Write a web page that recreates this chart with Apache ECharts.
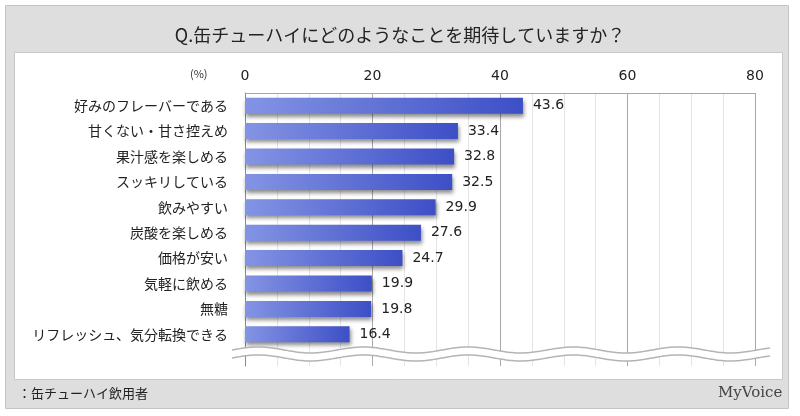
<!DOCTYPE html>
<html>
<head>
<meta charset="utf-8">
<script src="https://cdn.jsdelivr.net/npm/echarts@6/dist/echarts.min.js"></script>
<style>
  html, body { margin: 0; padding: 0; background: #fff; }
  #chart { width: 800px; height: 416px; }
</style>
</head>
<body>
<div id="chart"></div>
<script>
const categories = [
  '好みのフレーバーである',
  '甘くない・甘さ控えめ',
  '果汁感を楽しめる',
  'スッキリしている',
  '飲みやすい',
  '炭酸を楽しめる',
  '価格が安い',
  '気軽に飲める',
  '無糖',
  'リフレッシュ、気分転換できる'
];
const values = [43.6, 33.4, 32.8, 32.5, 29.9, 27.6, 24.7, 19.9, 19.8, 16.4];
const axisMax = 80;
const axisStep = 20;

const font = '"Noto Sans CJK JP", "Noto Sans", sans-serif';

// 波線（省略記号）
function wave(offset) {
  const pts = [];
  for (let x = 232; x <= 770; x += 2) {
    pts.push([x, 354 + offset + 3 * Math.sin((x - 232) / 105 * Math.PI * 2 + Math.PI)]);
  }
  return pts;
}

const chart = echarts.init(document.getElementById('chart'));

const xAxisBase = {
  type: 'value',
  min: 0,
  max: axisMax,
  interval: axisStep,
  minorTick: { show: false, splitNumber: 4 },
  minorSplitLine: { show: true, lineStyle: { color: '#e4e4e4', width: 1 } },
  splitLine: { show: true, lineStyle: { color: '#a8a8a8', width: 1 } },
  axisLine: { show: false },
  axisTick: { show: false }
};

chart.setOption({
  animation: false,
  textStyle: { fontFamily: font },
  title: {
    text: 'Q.缶チューハイにどのようなことを期待していますか？',
    left: 'center',
    top: 21,
    textStyle: { fontSize: 18, fontWeight: 'normal', color: '#222', fontFamily: font }
  },
  graphic: [
    { type: 'rect', z: -100, shape: { x: 5.5, y: 5.5, width: 783, height: 403 },
      style: { fill: '#dedede', stroke: '#c4c4c4', lineWidth: 1 } },
    { type: 'rect', z: -99, shape: { x: 14.5, y: 52.5, width: 768, height: 327 },
      style: { fill: '#ffffff', stroke: '#c8c8c8', lineWidth: 1 } },
    { type: 'polyline', z: 100, shape: { points: wave(0) },
      style: { stroke: '#ffffff', lineWidth: 8, fill: null } },
    { type: 'polyline', z: 101, shape: { points: wave(-4) },
      style: { stroke: '#b4b4b4', lineWidth: 1.5, fill: null } },
    { type: 'polyline', z: 101, shape: { points: wave(4) },
      style: { stroke: '#b4b4b4', lineWidth: 1.5, fill: null } },
    { type: 'text', left: 190, top: 68,
      style: { text: '(%)', fontSize: 11, fill: '#333', fontFamily: font } },
    { type: 'text', left: 18, top: 387,
      style: { text: '：缶チューハイ飲用者', fontSize: 13, fill: '#222', fontFamily: font } },
    { type: 'text', left: 718, top: 386,
      style: { text: 'MyVoice', fontSize: 15, fill: '#444', fontFamily: '"DejaVu Serif", serif' } }
  ],
  grid: [
    { left: 245, right: 45, top: 93, height: 254 },
    { left: 245, right: 45, top: 347, height: 19 }
  ],
  xAxis: [
    Object.assign({}, xAxisBase, {
      gridIndex: 0,
      position: 'top',
      axisLine: { show: true, lineStyle: { color: '#a8a8a8' } },
      axisLabel: { margin: 10, fontSize: 14, color: '#222', fontFamily: 'Verdana, "DejaVu Sans", sans-serif' }
    }),
    Object.assign({}, xAxisBase, {
      gridIndex: 1,
      axisLabel: { show: false }
    })
  ],
  yAxis: [
    {
      type: 'category',
      gridIndex: 0,
      data: categories,
      inverse: true,
      axisLine: { show: true, lineStyle: { color: '#888' } },
      axisTick: { show: false },
      axisLabel: { margin: 17, fontSize: 14, color: '#222' }
    },
    {
      type: 'value',
      gridIndex: 1,
      axisLine: { show: true, onZero: false, lineStyle: { color: '#888' } },
      axisTick: { show: false },
      axisLabel: { show: false },
      splitLine: { show: false }
    }
  ],
  series: [{
    type: 'bar',
    xAxisIndex: 0,
    yAxisIndex: 0,
    data: values,
    barWidth: 16,
    itemStyle: {
      color: new echarts.graphic.LinearGradient(0, 0, 1, 0, [
        { offset: 0, color: '#8494e4' },
        { offset: 1, color: '#3d4fc6' }
      ]),
      shadowColor: 'rgba(0,0,0,0.45)',
      shadowBlur: 4,
      shadowOffsetY: 3,
      shadowOffsetX: 1
    },
    label: {
      show: true,
      position: 'right',
      distance: 10,
      fontSize: 14,
      color: '#222',
      fontFamily: 'Verdana, "DejaVu Sans", sans-serif',
      formatter: p => p.value.toFixed(1)
    }
  }]
});
</script>
</body>
</html>
